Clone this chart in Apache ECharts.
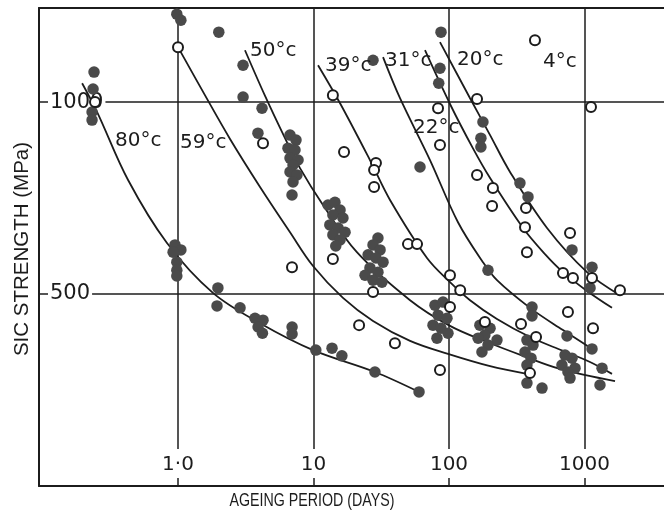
<!DOCTYPE html>
<html><head><meta charset="utf-8">
<script src="https://cdn.jsdelivr.net/npm/echarts@6/dist/echarts.min.js"></script>
<style>html,body{margin:0;padding:0;background:#fff}#c{width:664px;height:519px}</style>
</head><body><div id="c"></div>
<script>
// ---- data (days, MPa) ----
const xTickValues = [1, 10, 100, 1000];
const xTickLabels = ['1·0', '10', '100', '1000'];
const yTickValues = [500, 1000];
const yTickLabels = ['500', '1000'];

const filledPoints = [
  [0.240,1078],[0.236,1034],[0.232,974],[0.232,953],
  [0.98,1229],[1.05,1213],[2.0,1182],
  [0.95,628],[1.05,615],[0.92,609],[0.98,583],[0.98,562],[0.98,547],
  [1.97,516],[1.94,469],[2.87,464],
  [3.70,437],[4.24,432],[3.90,414],[4.20,398],
  [6.95,414],[6.95,396],[10.4,354],[13.7,359],[16.2,339],[28.4,297],[60.1,245],
  [3.02,1096],[3.02,1013],[4.17,984],[3.89,919],
  [6.71,914],[7.43,901],[6.48,880],[7.30,875],[6.71,854],[7.69,849],[7.06,836],[6.71,818],[7.55,810],[7.06,792],[6.94,758],
  [12.8,732],[14.4,739],[15.7,719],[13.9,706],[16.5,698],[13.2,680],[15.2,672],[17.1,661],[13.9,654],[15.7,641],[14.6,625],
  [29.9,646],[27.5,628],[31.0,615],[25.3,602],[28.9,594],[32.6,583],[26.1,568],[29.9,557],[24.0,549],[27.5,536],[32.0,531],
  [27.5,1109],[61.1,831],[87.3,1182],[85.8,1088],[84,1049],
  [178,948],[172,906],[172,883],
  [334,789],[383,753],
  [809,615],[1136,570],[1099,516],
  [194,562],
  [410,466],[410,443],[743,391],[1136,357],[1347,307],[1301,263],
  [376,268],[486,255],
  [78.8,471],[90.3,479],[83,445],[96.6,437],[76.2,419],[87.3,411],[98.3,398],[81.5,385],
  [169,419],[201,411],[184,393],[226,380],[164,385],[194,367],[175,349],
  [376,380],[417,367],[364,349],[403,333],[376,315],
  [718,341],[809,333],[682,315],[851,307],[755,297],[782,281]
];

const openPoints = [
  [0.244,1000],[1.0,1143],[4.24,893],[6.94,570],[13.9,591],[13.9,1018],[16.8,870],
  [28.9,841],[28.0,823],[28.0,779],[27.5,505],[49.8,630],[58.1,630],[21.7,419],[39.9,372],[85.8,302],
  [83,984],[85.8,888],[161,1008],[161,810],[211,776],[208,729],[370,724],[364,674],[376,609],
  [782,659],[1136,542],[694,555],[822,542],[1828,510],
  [101.7,549],[121,510],[101.7,466],[184,427],[439,388],[396,294],[340,422],[755,453],[1156,411],
  [431,1161],[1117,987]
];

const curve80 = [[0.196,1049],[0.253,974],[0.428,797],[0.829,633],[1.81,503],[4.03,424],[9.92,354],[28.4,297],[60.1,245]];
const curve59 = [[1.0,1143],[1.58,1018],[2.42,904],[4.03,779],[6.71,661],[9.92,573],[16.5,490],[27.5,430],[51.6,378],[98.3,344],[201,312],[376,292]];
const curve50 = [[3.12,1135],[4.39,1016],[6.16,906],[7.95,828],[11.75,732],[20.9,609],[51.6,484],[101.7,417],[191,375],[352,339],[660,305],[1680,273]];
const curve39 = [[10.8,1096],[15.7,997],[26.1,849],[36.7,745],[68.8,594],[101.7,531],[143,484],[226,435],[396,388],[694,352],[1098,323],[1596,292]];
const curve31 = [[32.6,1117],[43.5,1010],[72.4,849],[116.5,687],[178,583],[226,536],[396,464],[694,406],[1136,357]];
const curve22 = [[66.5,1135],[101.7,995],[150,880],[201,802],[352,672],[511,604],[694,557],[1044,508],[1596,464]];
const curve20 = [[85.8,1156],[143,1010],[201,914],[282,818],[529,672],[1044,557],[1828,497]];

const curves = [curve80, curve59, curve50, curve39, curve31, curve22, curve20];
const tempLabels = ['80°c', '59°c', '50°c', '39°c', '31°c', '22°c', '20°c', '4°c'];
const xTitle = 'AGEING PERIOD (DAYS)';
const yTitle = 'SIC STRENGTH (MPa)';

// ---- layout (pixels) ----
const tempLabelPos = [[115,141],[180,143],[250,51],[325,66],[385,61],[413,128],[457,60],[543,62]];
const INK = '#1c1c1c';
const X_MIN = 0.0942, X_MAX = 3862, Y_MAX = 1245;

const chart = echarts.init(document.getElementById('c'), null, {renderer: 'canvas'});

const series = curves.map(c => ({
  type: 'line', data: c, smooth: 0.35, symbol: 'none', z: 2,
  lineStyle: {color: INK, width: 1.8}, silent: true
}));
series.push({
  type: 'scatter', data: filledPoints, symbolSize: 11.5, z: 3,
  itemStyle: {color: '#4a4a4a', opacity: 1}
});
series.push({
  type: 'scatter', data: openPoints, symbolSize: 10, z: 4,
  itemStyle: {color: '#fff', borderColor: INK, borderWidth: 2, opacity: 1}
});

const graphics = tempLabels.map((t, i) => ({
  type: 'text', x: tempLabelPos[i][0], y: tempLabelPos[i][1], z: 10,
  style: {text: t, fontSize: 20, fontFamily: 'DejaVu Sans', fill: INK, align: 'left', verticalAlign: 'middle'}
}));
graphics.push({
  type: 'text', x: 312, y: 501, z: 10, scaleX: 0.79,
  style: {text: xTitle, fontSize: 18, fontFamily: 'Liberation Sans', fill: INK, align: 'center', verticalAlign: 'middle'}
});
graphics.push({
  type: 'text', x: 22, y: 249, rotation: Math.PI / 2, z: 10,
  style: {text: yTitle, fontSize: 20.5, fontFamily: 'Liberation Sans', fill: INK, align: 'center', verticalAlign: 'middle'}
});

chart.setOption({
  animation: false,
  backgroundColor: '#fff',
  grid: {left: 39, right: 0, top: 8, bottom: 33, containLabel: false, outerBoundsMode: 'none'},
  xAxis: [{
    type: 'log', logBase: 10, min: X_MIN, max: X_MAX,
    axisLine: {show: true, onZero: false, lineStyle: {color: INK, width: 2}},
    axisTick: {show: false, customValues: xTickValues},
    splitLine: {show: true, lineStyle: {color: INK, width: 1.5}},
    axisLabel: {
      inside: true, customValues: xTickValues, margin: 8,
      formatter: v => { const i = xTickValues.indexOf(v); return i >= 0 ? xTickLabels[i] : ''; },
      fontSize: 20, fontFamily: 'DejaVu Sans', color: INK,
      backgroundColor: '#fff', padding: [6, 4, 3, 4]
    }
  }, {
    type: 'log', logBase: 10, min: X_MIN, max: X_MAX, position: 'top',
    axisLine: {show: true, onZero: false, lineStyle: {color: INK, width: 2}},
    axisTick: {show: false}, axisLabel: {show: false}, splitLine: {show: false}
  }],
  yAxis: {
    type: 'value', min: 0, max: Y_MAX, interval: 500,
    axisLine: {show: true, onZero: false, lineStyle: {color: INK, width: 2}},
    axisTick: {show: false},
    splitLine: {show: true, lineStyle: {color: INK, width: 1.5}},
    axisLabel: {
      inside: true, customValues: yTickValues, margin: 9,
      formatter: v => { const i = yTickValues.indexOf(v); return i >= 0 ? yTickLabels[i] : ''; },
      fontSize: 21, fontFamily: 'DejaVu Sans', color: INK,
      backgroundColor: '#fff', padding: [1, 2, 1, 2]
    }
  },
  graphic: graphics,
  series: series
});
</script>
</body></html>
